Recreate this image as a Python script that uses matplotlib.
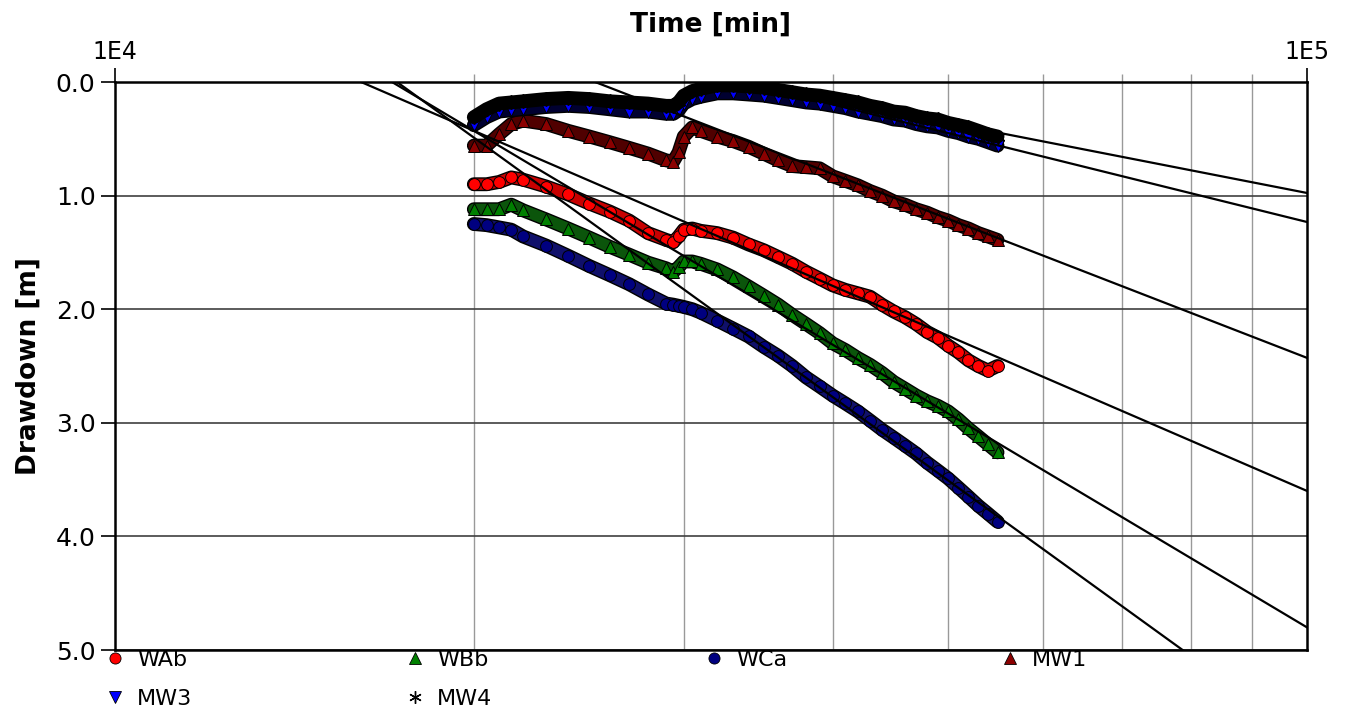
import numpy as np
import matplotlib
matplotlib.use("Agg")
import matplotlib.pyplot as plt
import matplotlib.patheffects as pe
from matplotlib.lines import Line2D
from matplotlib.ticker import FixedLocator, NullFormatter, LogLocator

# ---------------- data ----------------
time_min = [20000, 20500, 21000, 21500, 22000, 23000, 24000, 25000, 26000, 27000,
            28000, 29000, 29400, 29700, 30000, 30500, 31000, 32000, 33000, 34000,
            35000, 36000, 37000, 38000, 39000, 40000, 41000, 42000, 43000, 44000,
            45000, 46000, 47000, 48000, 49000, 50000, 51000, 52000, 53000, 54000, 55000]

wab = [0.90, 0.90, 0.88, 0.84, 0.86, 0.92, 0.99, 1.07, 1.14, 1.22,
       1.33, 1.39, 1.41, 1.36, 1.30, 1.29, 1.31, 1.33, 1.37, 1.43,
       1.48, 1.54, 1.60, 1.67, 1.73, 1.79, 1.83, 1.86, 1.89, 1.96,
       2.02, 2.07, 2.13, 2.20, 2.25, 2.32, 2.38, 2.45, 2.50, 2.54, 2.50]

wbb = [1.12, 1.12, 1.12, 1.08, 1.13, 1.21, 1.29, 1.37, 1.45, 1.52,
       1.59, 1.64, 1.67, 1.63, 1.58, 1.58, 1.60, 1.65, 1.72, 1.80,
       1.88, 1.96, 2.05, 2.13, 2.21, 2.30, 2.36, 2.43, 2.49, 2.56,
       2.64, 2.70, 2.76, 2.81, 2.85, 2.90, 2.97, 3.05, 3.12, 3.19, 3.26]

wca = [1.25, 1.26, 1.28, 1.30, 1.36, 1.44, 1.53, 1.62, 1.70, 1.78,
       1.87, 1.95, 1.96, 1.97, 1.98, 2.00, 2.03, 2.10, 2.17, 2.24,
       2.33, 2.41, 2.50, 2.60, 2.68, 2.76, 2.83, 2.90, 2.98, 3.06,
       3.13, 3.20, 3.27, 3.35, 3.42, 3.49, 3.57, 3.65, 3.73, 3.80, 3.87]

mw1 = [0.56, 0.56, 0.46, 0.37, 0.34, 0.37, 0.43, 0.48, 0.53, 0.58,
       0.63, 0.69, 0.70, 0.62, 0.48, 0.40, 0.43, 0.48, 0.52, 0.57,
       0.63, 0.69, 0.74, 0.75, 0.76, 0.83, 0.87, 0.91, 0.96, 1.00,
       1.05, 1.08, 1.12, 1.15, 1.19, 1.22, 1.26, 1.29, 1.33, 1.36, 1.39]

mw3 = [0.38, 0.31, 0.26, 0.25, 0.24, 0.22, 0.21, 0.22, 0.24, 0.26,
       0.26, 0.28, 0.28, 0.25, 0.19, 0.15, 0.13, 0.10, 0.10, 0.11,
       0.12, 0.14, 0.16, 0.18, 0.19, 0.21, 0.23, 0.26, 0.28, 0.30,
       0.33, 0.34, 0.37, 0.39, 0.40, 0.43, 0.45, 0.48, 0.50, 0.53, 0.56]

mw4 = [0.31, 0.24, 0.19, 0.18, 0.17, 0.15, 0.14, 0.15, 0.17, 0.18,
       0.19, 0.21, 0.21, 0.18, 0.12, 0.08, 0.06, 0.03, 0.03, 0.04,
       0.05, 0.07, 0.09, 0.11, 0.12, 0.14, 0.16, 0.18, 0.21, 0.23,
       0.26, 0.27, 0.30, 0.32, 0.33, 0.36, 0.38, 0.40, 0.43, 0.46, 0.48]

series_names = ["WAb", "WBb", "WCa", "MW1", "MW3", "MW4"]

# straight-line (Cooper-Jacob) fits: time where s = 0 and drawdown per log cycle
fit_t0 = [16085, 17075, 17240, 25280, 33575, 33380]
fit_slope = [4.536, 6.254, 7.586, 4.066, 2.60, 2.05]

y_ticks = [0.0, 1.0, 2.0, 3.0, 4.0, 5.0]
x_tick_labels = ["1E4", "1E5"]

# ---------------- plot ----------------
W, H = 1351, 711
fig = plt.figure(figsize=(W / 100, H / 100), dpi=100)
ax = fig.add_axes([115 / W, 1 - 650 / H, (1307 - 115) / W, (650 - 82) / H])

ax.set_xscale("log")
ax.set_xlim(1e4, 1e5)
ax.set_ylim(5.0, 0.0)

values = [wab, wbb, wca, mw1, mw3, mw4]
mcolors = ["#ff0000", "#008000", "#000080", "#8b0000", "#0000ff", "#000000"]
bandcolors = ["#c80000", "#0b550b", "#10106a", "#500000", "#000030", "#000000"]
markers = ["o", "^", "o", "^", "v", (6, 2, 0)]
ASTER = (6, 2, 0)

for i, (vals, mc, bc, mk) in enumerate(zip(values, mcolors, bandcolors, markers)):
    ax.plot(time_min, vals, color=bc, lw=8.0, solid_capstyle="round", solid_joinstyle="round",
            path_effects=[pe.Stroke(linewidth=10.0, foreground="black"), pe.Normal()],
            zorder=3 + i * 0.1)
    if mk == ASTER:
        ax.plot(time_min, vals, ls="none", marker=mk, ms=10, mec="black", mew=1.3,
                zorder=3.05 + i * 0.1)
    else:
        ax.plot(time_min, vals, ls="none", marker=mk, ms=8.5, mfc=mc, mec="black", mew=0.7,
                zorder=3.05 + i * 0.1)

# fitted straight lines
t_line = np.array([1e4, 1e5])
for t0, sl in zip(fit_t0, fit_slope):
    ax.plot(t_line, sl * np.log10(t_line / t0), color="black", lw=1.6, zorder=5)

# axes styling
ax.xaxis.tick_top()
ax.xaxis.set_label_position("top")
ax.xaxis.set_major_locator(FixedLocator([1e4, 1e5]))
ax.set_xticklabels(x_tick_labels)
ax.xaxis.set_minor_locator(LogLocator(base=10, subs=np.arange(2, 10)))
ax.xaxis.set_minor_formatter(NullFormatter())
ax.set_yticks(y_ticks)
ax.set_yticklabels([f"{v:.1f}" for v in y_ticks])

ax.tick_params(axis="x", which="major", direction="out", length=10, width=1.2, labelsize=17, pad=3)
ax.tick_params(axis="x", which="minor", direction="out", length=6, width=1, color="#999999")
ax.tick_params(axis="y", which="major", direction="out", length=10, width=1.2, labelsize=18, pad=4)

ax.grid(True, which="minor", axis="x", color="#999999", lw=1.0)
ax.grid(True, which="major", axis="y", color="#404040", lw=1.2)
ax.set_axisbelow(True)

for sp in ax.spines.values():
    sp.set_color("black")
    sp.set_linewidth(1.8)

ax.set_xlabel("Time [min]", fontsize=19, fontweight="bold", labelpad=6)
ax.set_ylabel("Drawdown [m]", fontsize=19, fontweight="bold", labelpad=10)

# legend (row-major look: reorder for column fill)
handles = []
for mc, mk in zip(mcolors, markers):
    if mk == ASTER:
        handles.append(Line2D([], [], ls="none", marker=mk, ms=9, mec="black", mew=1.0))
    else:
        handles.append(Line2D([], [], ls="none", marker=mk, ms=8, mfc=mc, mec="black", mew=0.6))
order = [0, 4, 1, 5, 2, 3]
fig.legend([handles[k] for k in order], [series_names[k] for k in order],
           loc="upper left", bbox_to_anchor=(106 / W, 1 - 650 / H), ncol=4,
           frameon=False, fontsize=16, handlelength=0.8, handletextpad=0.6,
           columnspacing=9.6, borderpad=0, borderaxespad=0, labelspacing=0.85)

fig.savefig("out.png", dpi=100)
